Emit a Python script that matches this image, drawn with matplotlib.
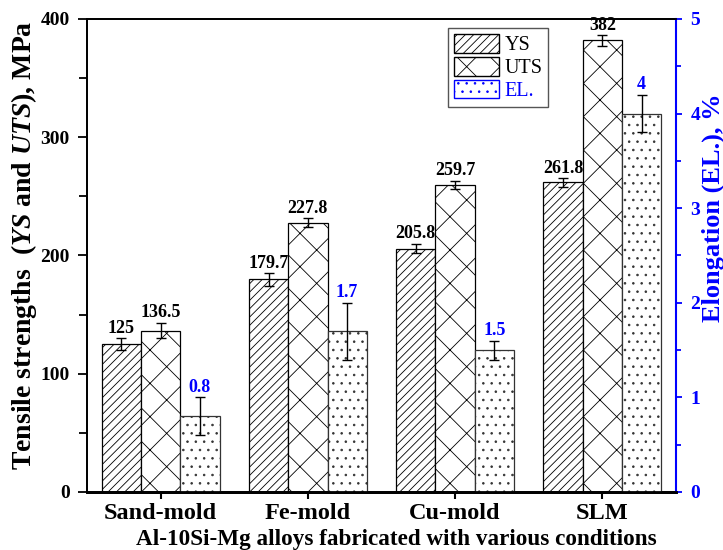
import matplotlib
matplotlib.use('Agg')
import matplotlib.pyplot as plt
import numpy as np
from matplotlib.patches import Patch

# Data
groups = ['Sand-mold', 'Fe-mold', 'Cu-mold', 'SLM']
ys = [125, 179.7, 205.8, 261.8]
ys_err = [5, 5.5, 4, 3.5]
uts = [136.5, 227.8, 259.7, 382]
uts_err = [6.5, 3.5, 3.5, 4.5]
el = [0.8, 1.7, 1.5, 4]
el_err = [0.2, 0.3, 0.1, 0.2]

plt.rcParams['font.family'] = ['Liberation Serif', 'DejaVu Serif']
plt.rcParams['font.weight'] = 'bold'
plt.rcParams['mathtext.fontset'] = 'custom'
plt.rcParams['mathtext.rm'] = 'Liberation Serif:bold'
plt.rcParams['mathtext.it'] = 'Liberation Serif:italic:bold'
plt.rcParams['hatch.linewidth'] = 0.6
plt.rcParams['axes.linewidth'] = 1.3

fig = plt.figure(figsize=(7.23, 5.5), dpi=100)
ax = fig.add_axes([0.1203, 0.1055, 0.8147, 0.86])
ax2 = ax.twinx()

x = np.arange(1, len(groups) + 1)
w = 0.267
blue = '#0000ff'

ekw = dict(ecolor='black', elinewidth=1.0, capsize=3.3, capthick=1.0)
ax.bar(x - w, ys, w, yerr=ys_err, color='white', edgecolor='black',
       hatch='////', linewidth=0.9, error_kw=ekw)
ax.bar(x, uts, w, yerr=uts_err, color='white', edgecolor='black',
       hatch='x', linewidth=0.9, error_kw=ekw)
ax2.bar(x + w, el, w, yerr=el_err, color='white', edgecolor='#333333',
        hatch='..', linewidth=0.9, error_kw=ekw)

# value labels above the error bars
for xi, v, e in zip(x - w, ys, ys_err):
    ax.annotate(f'{v:g}', (xi, v + e), xytext=(0, 1), textcoords='offset points',
                ha='center', va='bottom', fontsize=13, fontweight='bold')
for xi, v, e in zip(x, uts, uts_err):
    ax.annotate(f'{v:g}', (xi, v + e), xytext=(0, 1), textcoords='offset points',
                ha='center', va='bottom', fontsize=13, fontweight='bold')
for xi, v, e in zip(x + w, el, el_err):
    ax2.annotate(f'{v:g}', (xi, v + e), xytext=(0, 1), textcoords='offset points',
                 ha='center', va='bottom', fontsize=13, fontweight='bold', color=blue)

ax.set_xlim(0.5, 4.5)
ax.set_ylim(0, 400)
ax2.set_ylim(0, 5)

ax.set_xticks(x)
ax.set_xticklabels(groups, fontsize=17.5, fontweight='bold')
ax.set_yticks([0, 100, 200, 300, 400])
ax.set_yticks([50, 150, 250, 350], minor=True)
ax.tick_params(axis='y', which='major', length=6.5, width=1.3, labelsize=14, pad=6)
ax.tick_params(axis='y', which='minor', length=5.5, width=1.3)
ax.tick_params(axis='x', length=5, width=1.5, pad=3)

ax2.set_yticks([0, 1, 2, 3, 4, 5])
ax2.set_yticks([0.5, 1.5, 2.5, 3.5, 4.5], minor=True)
ax2.tick_params(axis='y', which='major', length=4.5, width=1.3, colors=blue,
                labelsize=14, pad=6)
ax2.tick_params(axis='y', which='minor', length=3.5, width=1.3, colors=blue)
ax2.spines['right'].set_color(blue)
ax2.spines['right'].set_linewidth(1.5)
ax.spines['bottom'].set_linewidth(2.0)
ax2.spines['bottom'].set_linewidth(2.0)

ax.set_ylabel(r'Tensile strengths  ($\mathit{YS}$ and $\mathit{UTS}$), MPa',
              fontsize=20, fontweight='bold')
ax.yaxis.set_label_coords(-0.082, 0.522)
ax.set_xlabel('Al-10Si-Mg alloys fabricated with various conditions',
              fontsize=16.7, fontweight='bold')
ax.xaxis.set_label_coords(0.526, -0.078)
ax2.set_ylabel('Elongation (EL.), %', fontsize=19, fontweight='bold', color=blue)
ax2.yaxis.set_label_coords(1.044, 0.6)

handles = [
    Patch(facecolor='white', edgecolor='black', hatch='////', linewidth=1.0),
    Patch(facecolor='white', edgecolor='black', hatch='x', linewidth=1.0),
    Patch(facecolor='white', edgecolor=blue, hatch='..', linewidth=1.0),
]
leg = ax2.legend(handles, ['YS', 'UTS', 'EL.'], loc='upper left',
                 bbox_to_anchor=(0.613, 0.981), borderaxespad=0,
                 prop={'family': 'Liberation Serif', 'weight': 'normal', 'size': 14.5},
                 handlelength=2.25, handleheight=1.05, labelspacing=0.08,
                 handletextpad=0.25, borderpad=0.3, fancybox=False,
                 edgecolor='#555555', framealpha=1)
leg.get_frame().set_linewidth(1.0)
leg.get_texts()[2].set_color(blue)

fig.savefig('out.png', dpi=100)
